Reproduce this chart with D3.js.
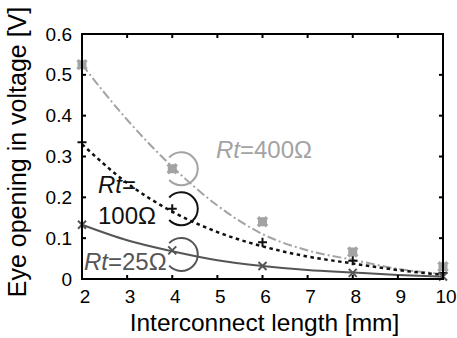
<!DOCTYPE html>
<html>
<head>
<meta charset="utf-8">
<script src="https://cdn.jsdelivr.net/npm/d3@7"></script>
<style>
  body { margin: 0; background: #fff; }
  svg { font-family: "Liberation Sans", Arial, sans-serif; }
</style>
</head>
<body>
<svg id="chart" width="457" height="338"></svg>
<script>
// values
const lengths = [2, 4, 6, 8, 10];
const meas400 = [0.525, 0.27, 0.14, 0.066, 0.03];
const meas100 = [0.335, 0.172, 0.09, 0.045, 0.015];
const meas25 = [0.133, 0.07, 0.032, 0.015, 0.006];

const fitX = [2, 3, 4, 5, 6, 7, 8, 9, 10];
const fit400 = [0.525, 0.39, 0.275, 0.18, 0.11, 0.07, 0.047, 0.025, 0.012];
const fit100 = [0.33, 0.235, 0.165, 0.115, 0.08, 0.055, 0.038, 0.022, 0.01];
const fit25 = [0.133, 0.095, 0.068, 0.046, 0.032, 0.022, 0.016, 0.01, 0.006];

const xTicks = [2, 3, 4, 5, 6, 7, 8, 9, 10];
const yTicks = [0, 0.1, 0.2, 0.3, 0.4, 0.5, 0.6];

const svg = d3.select('#chart');
const margin = { top: 34, right: 14, bottom: 59, left: 82 };
const width = +svg.attr('width') - margin.left - margin.right;
const height = +svg.attr('height') - margin.top - margin.bottom;

const x = d3.scaleLinear().domain([2, 10]).range([0, width]);
const y = d3.scaleLinear().domain([0, 0.6]).range([height, 0]);

const g = svg.append('g').attr('transform', `translate(${margin.left},${margin.top})`);

const grey400 = '#a3a3a3', col100 = '#111', col25 = '#555';

// fitted curves
const line = d3.line().x(d => x(d[0])).y(d => y(d[1])).curve(d3.curveMonotoneX);
const curves = [
  { vals: fit400, color: grey400, dash: '9,3,2,3', w: 2 },
  { vals: fit100, color: col100, dash: '3.5,3.5', w: 2.5 },
  { vals: fit25, color: col25, dash: null, w: 2 }
];
curves.forEach(c => {
  g.append('path')
    .datum(fitX.map((v, i) => [v, c.vals[i]]))
    .attr('fill', 'none')
    .attr('stroke', c.color)
    .attr('stroke-width', c.w)
    .attr('stroke-dasharray', c.dash)
    .attr('d', line);
});

// markers
function marker(sel, type, s) {
  if (type === 'star') {
    sel.append('path').attr('d', `M${-s},0H${s}M0,${-s}V${s}M${-s},${-s}L${s},${s}M${-s},${s}L${s},${-s}`);
  } else if (type === 'plus') {
    sel.append('path').attr('d', `M${-s},0H${s}M0,${-s}V${s}`);
  } else {
    sel.append('path').attr('d', `M${-s},${-s}L${s},${s}M${-s},${s}L${s},${-s}`);
  }
}
const series = [
  { vals: meas400, color: grey400, type: 'star', s: 4.5, w: 3.5 },
  { vals: meas100, color: col100, type: 'plus', s: 4.5, w: 2 },
  { vals: meas25, color: col25, type: 'x', s: 4, w: 2 }
];
series.forEach(sr => {
  lengths.forEach((v, i) => {
    const m = g.append('g')
      .attr('transform', `translate(${x(v)},${y(sr.vals[i])})`)
      .attr('stroke', sr.color)
      .attr('stroke-width', sr.w)
      .attr('fill', 'none');
    marker(m, sr.type, sr.s);
  });
});

// annotation circles around the x=4 points
const r = 16.5;
series.forEach((sr, k) => {
  const cx = x(4) + 9;
  const cy = y(sr.vals[1]) + (k === 2 ? 4 : 0);
  const p = d3.path();
  p.arc(cx, cy, r, Math.PI + 0.75, 3 * Math.PI - 0.75);
  g.append('path').attr('d', p.toString())
    .attr('fill', 'none').attr('stroke', sr.color).attr('stroke-width', 2);
});

// frame and ticks
const tl = 4;
g.append('rect').attr('width', width).attr('height', height)
  .attr('fill', 'none').attr('stroke', '#000').attr('stroke-width', 2);
xTicks.forEach(t => {
  g.append('line').attr('x1', x(t)).attr('x2', x(t)).attr('y1', height).attr('y2', height - tl)
    .attr('stroke', '#000').attr('stroke-width', 2);
  g.append('line').attr('x1', x(t)).attr('x2', x(t)).attr('y1', 0).attr('y2', tl)
    .attr('stroke', '#000').attr('stroke-width', 2);
  g.append('text').attr('x', x(t) + 3).attr('y', height + 24)
    .attr('text-anchor', 'middle').attr('font-size', 19).text(t);
});
yTicks.forEach(t => {
  g.append('line').attr('x1', 0).attr('x2', tl).attr('y1', y(t)).attr('y2', y(t))
    .attr('stroke', '#000').attr('stroke-width', 2);
  g.append('line').attr('x1', width).attr('x2', width - tl).attr('y1', y(t)).attr('y2', y(t))
    .attr('stroke', '#000').attr('stroke-width', 2);
  g.append('text').attr('x', -10).attr('y', y(t)).attr('dy', '0.35em')
    .attr('text-anchor', 'end').attr('font-size', 19).text(t === 0 ? '0' : d3.format('.1f')(t));
});

// axis titles
svg.append('text').attr('x', margin.left + width / 2 + 2).attr('y', 331)
  .attr('text-anchor', 'middle').attr('font-size', 24.5).text('Interconnect length [mm]');
svg.append('text').attr('transform', `translate(26,152) rotate(-90)`)
  .attr('text-anchor', 'middle').attr('font-size', 25).text('Eye opening in voltage [V]');

// labels
function rtLabel(px, py, color, rest) {
  const t = svg.append('text').attr('x', px).attr('y', py).attr('fill', color).attr('font-size', 24);
  t.append('tspan').attr('font-style', 'italic').text('Rt');
  t.append('tspan').text(rest);
  return t;
}
rtLabel(216, 158, grey400, '=400Ω');
rtLabel(98, 193, col100, '=');
svg.append('text').attr('x', 98).attr('y', 224).attr('fill', col100).attr('font-size', 24).text('100Ω');
rtLabel(84, 270, col25, '=25Ω');
</script>
</body>
</html>
